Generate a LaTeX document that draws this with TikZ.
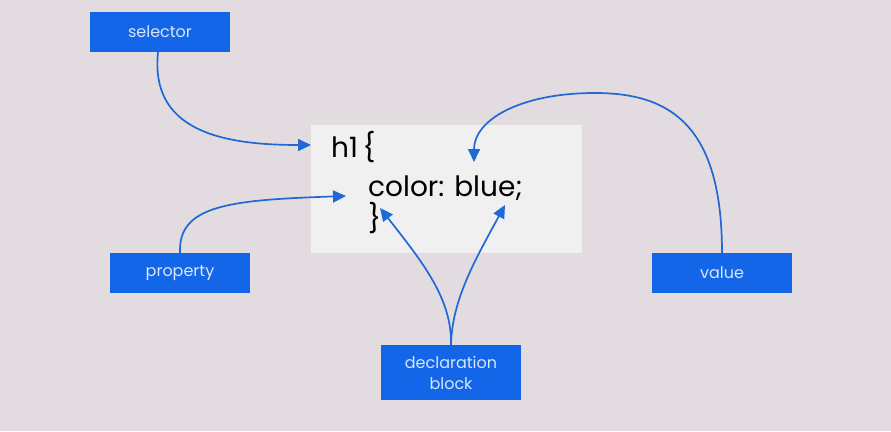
\documentclass[tikz,border=0pt]{standalone}
\usepackage{fontspec}
\setmainfont{Poppins}
\usetikzlibrary{arrows.meta}
\definecolor{bg}{HTML}{E2DCE0}
\definecolor{codebg}{HTML}{F1F0F1}
\definecolor{boxblue}{HTML}{1466E8}
\definecolor{lineblue}{HTML}{2068D6}
\definecolor{labeltext}{HTML}{D8E6FA}
\tikzset{
  label box/.style={fill=boxblue, draw=none, minimum width=140pt, minimum height=40pt,
    inner sep=0pt, text=labeltext, font=\fontsize{16}{19}\selectfont, align=center},
  connector/.style={draw=lineblue, line width=1.7pt,
    -{Triangle[length=13pt,width=12pt]}},
  code/.style={font=\fontsize{28}{33}\selectfont, text=black, inner sep=0pt, anchor=base west}
}
\begin{document}
\begin{tikzpicture}[x=1pt,y=-1pt]
\fill[bg] (0,0) rectangle (891,431);
\useasboundingbox (0,0) rectangle (891,431);
\node[fill=codebg, minimum width=271pt, minimum height=128pt, inner sep=0pt, anchor=north west] (codebox) at (311,125) {};
\node[code] (h1) at (331,157) {h1\,\{};
\node[code] (decl) at (368,196) {color: blue;};
\node[code] (close) at (368,228) {\}};
\node[label box] (selector) at (160,32) {selector};
\node[label box] (property) at (180,273) {property};
\node[label box] (value) at (722,273) {value};
\node[label box, minimum height=55pt] (block) at (451,372.5) {declaration\\[2pt]block};
\coordinate (selTip) at (311,145);
\coordinate (propTip) at (346,196);
\coordinate (valTip) at (474,162);
\coordinate (blkTipL) at (380,208);
\coordinate (blkTipR) at (505,205);
\coordinate (valTop) at (595,93);
\draw[connector] (selector.south -| 158,0) .. controls (150,130) and (220,145) .. (selTip);
\draw[connector] (property.north) .. controls (178,205) and (230,200) .. (propTip);
\draw[connector] (value.north) .. controls (722,125) and (670,93) .. (valTop) .. controls (520,93) and (474,120) .. (valTip);
\draw[connector] (block.north) .. controls (452,300) and (425,265) .. (blkTipL);
\draw[connector] (block.north) .. controls (452,300) and (475,260) .. (blkTipR);
\end{tikzpicture}
\end{document}
